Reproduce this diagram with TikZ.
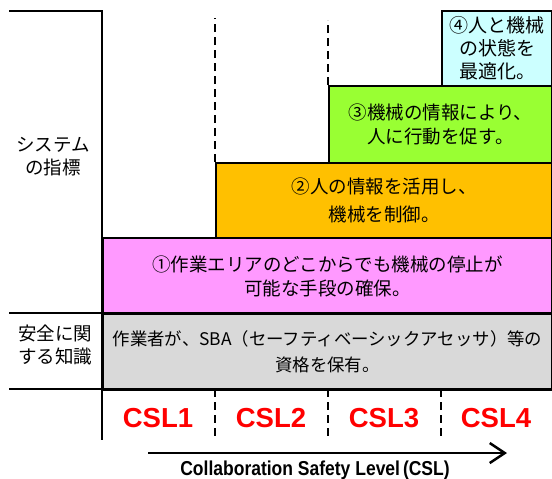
\documentclass[tikz,border=0pt]{standalone}
\usepackage{fontspec}
\setmainfont{Liberation Sans}
\newfontfamily\jp{Noto Sans CJK JP}
\usetikzlibrary{arrows.meta}
\definecolor{pinkc}{HTML}{FF99FF}
\definecolor{grayc}{HTML}{D9D9D9}
\definecolor{orangec}{HTML}{FFC000}
\definecolor{greenc}{HTML}{99FF33}
\definecolor{cyanc}{HTML}{CCFFFF}
\definecolor{redc}{HTML}{FF0000}
\begin{document}
\begin{tikzpicture}[x=1pt,y=-1pt,
  frame/.style={line width=2pt},
  sep/.style={line width=2pt, dash pattern=on 8pt off 5pt},
  box/.style={draw, line width=2pt, anchor=north west, inner sep=0pt, align=center,
    font=\jp\fontsize{18.5}{24}\selectfont},
  lab/.style={align=center, inner sep=0pt, font=\jp\fontsize{18.5}{23}\selectfont},
  csl/.style={inner sep=0pt, text=redc, font=\bfseries\fontsize{27.5}{30}\selectfont}]
\useasboundingbox (0,0) rectangle (552,479);
% frame
\draw[frame] (9,11) -- (102,11) -- (102,440);
% boxes
\node[box, fill=pinkc, minimum width=449pt, minimum height=76pt] (b1) at (102,237)
  {①作業エリアのどこからでも機械の停止が\\可能な手段の確保。};
\node[box, fill=grayc, minimum width=449pt, minimum height=76pt,
  font=\jp\fontsize{17.4}{26}\selectfont] (kn) at (102,313)
  {作業者が、SBA（セーフティベーシックアセッサ）等の\\資格を保有。};
\node[box, fill=orangec, minimum width=336pt, minimum height=75pt,
  font=\jp\fontsize{18.5}{28}\selectfont] (b2) at (215,162)
  {②人の情報を活用し、\\機械を制御。};
\node[box, fill=greenc, minimum width=223pt, minimum height=77pt] (b3) at (328,85)
  {③機械の情報により、\\人に行動を促す。};
\node[box, fill=cyanc, minimum width=110pt, minimum height=75pt,
  font=\jp\fontsize{19}{23}\selectfont] (b4) at (441,10)
  {④人と機械\\の状態を\\最適化。};
% row lines
\draw[frame] (9,313) -- (551,313);
\draw[frame] (9,389) -- (551,389);
% dashed separators
\coordinate (d2t) at (215,18);
\coordinate (d3t) at (328,20);
\draw[sep] (b2.north west) -- (d2t);
\draw[sep] (b3.north west) -- (d3t);
\draw[sep] (215,389) -- (215,440);
\draw[sep] (328,389) -- (328,440);
\draw[sep] (441,389) -- (441,440);
% left labels
\node[lab] (sys) at (53,157) {システム\\の指標};
\node[lab] (saf) at (55,345) {安全に関\\する知識};
% CSL labels
\node[csl] (c1) at (158,418) {CSL1};
\node[csl] (c2) at (271,418) {CSL2};
\node[csl] (c3) at (384,418) {CSL3};
\node[csl] (c4) at (496,418) {CSL4};
% arrow
\coordinate (as) at (148,453);
\coordinate (ae) at (507,453);
\draw[line width=2.5pt, -{Straight Barb[length=15pt,width=20pt,line width=2.5pt]}] (as) -- (ae);
\node[inner sep=0pt, yscale=1.15, font=\bfseries\fontsize{17.5}{20}\selectfont] (axl) at (315,470)
  {Collaboration Safety Level\,(CSL)};
\end{tikzpicture}
\end{document}
